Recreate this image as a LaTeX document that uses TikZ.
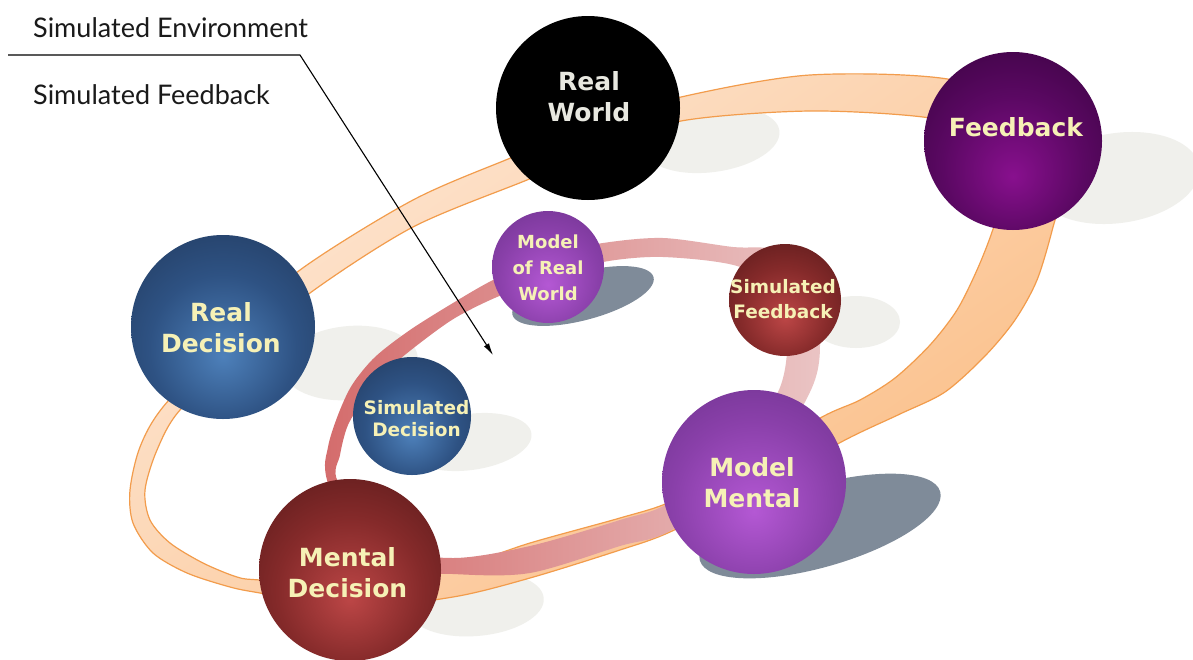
\documentclass[tikz,border=0pt]{standalone}
\usepackage{fontspec}
\newfontfamily\ballfont{DejaVu Sans}
\newfontfamily\capfont{Lato}
\usetikzlibrary{arrows.meta}
\definecolor{bIn}{HTML}{4D80BA}
\definecolor{bMid}{HTML}{2E5283}
\definecolor{bOut}{HTML}{1A2B47}
\definecolor{rIn}{HTML}{BC4646}
\definecolor{rMid}{HTML}{852A2A}
\definecolor{rOut}{HTML}{3C1010}
\definecolor{pIn}{HTML}{B458D4}
\definecolor{pMid}{HTML}{8A40AA}
\definecolor{pOut}{HTML}{5C2A7C}
\definecolor{fIn}{HTML}{88108E}
\definecolor{fMid}{HTML}{5A0862}
\definecolor{fOut}{HTML}{26002C}
\definecolor{lblyellow}{HTML}{F6F1B6}
\definecolor{lblwhite}{HTML}{E8E8E0}
\definecolor{shLight}{HTML}{F0F0EC}
\definecolor{shDark}{HTML}{7F8B99}
\definecolor{orTop}{HTML}{FDE7D5}
\definecolor{orBot}{HTML}{FBBE86}
\definecolor{orEdge}{HTML}{F29C4C}
\definecolor{pkL}{HTML}{D46C6C}
\definecolor{pkM}{HTML}{E3ABAB}
\definecolor{pkR}{HTML}{EAC4C4}
\definecolor{capcol}{HTML}{1A1A1A}
\pgfdeclareradialshading{ballblue}{\pgfpoint{0bp}{-8bp}}{color(0bp)=(bIn); color(20bp)=(bMid); color(50bp)=(bOut); color(70bp)=(bOut)}
\pgfdeclareradialshading{ballred}{\pgfpoint{0bp}{-8bp}}{color(0bp)=(rIn); color(20bp)=(rMid); color(50bp)=(rOut); color(70bp)=(rOut)}
\pgfdeclareradialshading{ballpurple}{\pgfpoint{0bp}{-8bp}}{color(0bp)=(pIn); color(22bp)=(pMid); color(50bp)=(pOut); color(70bp)=(pOut)}
\pgfdeclareradialshading{ballfeed}{\pgfpoint{0bp}{-10bp}}{color(0bp)=(fIn); color(20bp)=(fMid); color(50bp)=(fOut); color(70bp)=(fOut)}
\tikzset{
  ball/.style={circle, inner sep=0pt, minimum size=#1},
  biglbl/.style={font=\ballfont\bfseries\fontsize{25}{31}\selectfont, text=lblyellow, align=center, inner sep=0pt},
  smalllbl/.style={font=\ballfont\bfseries\fontsize{18.5}{#1}\selectfont, text=lblyellow, align=center, inner sep=0pt},
  caption/.style={font=\capfont\fontsize{27}{32}\selectfont, text=capcol, inner sep=0pt, anchor=base west},
  lightshadow/.style={fill=shLight},
  darkshadow/.style={fill=shDark},
}
\begin{document}
\begin{tikzpicture}[x=1pt,y=-1pt]
\useasboundingbox (0,0) rectangle (1193,659);
\fill[white] (0,0) rectangle (1193,659);
% shadows
\fill[lightshadow, rotate around={8:(712,140)}] (712,140) ellipse [x radius=68, y radius=32];
\fill[lightshadow, rotate around={8:(1118,178)}] (1118,178) ellipse [x radius=82, y radius=45];
\fill[lightshadow, rotate around={5:(350,363)}] (350,363) ellipse [x radius=68, y radius=37];
\fill[lightshadow] (856,322) ellipse [x radius=44, y radius=26];
\fill[lightshadow, rotate around={8:(470,442)}] (470,442) ellipse [x radius=62, y radius=28];
\fill[lightshadow, rotate around={5:(476,604)}] (476,604) ellipse [x radius=68, y radius=32];
\fill[darkshadow, rotate around={15:(583,296)}] (583,296) ellipse [x radius=73, y radius=24];
\fill[darkshadow, rotate around={16:(820,526)}] (820,526) ellipse [x radius=125, y radius=41];
% outer orange ring
\def\orOuter{(300,270) (413,200) (513,157) (600,122) (681,97) (810,75) (953,80) (1030,120) (1062,182) (1053,227) (1037,280) (1015,320) (985,356) (945,392) (900,414) (845,440) (760,487) (670,532) (620,550) (530,578) (453,597) (350,608) (260,593) (230,587) (187,573) (153,553) (133,523) (130,490) (140,447) (163,407) (230,335)}
\def\orInner{(310,293) (413,227) (527,180) (600,150) (681,121) (810,111) (930,118) (978,138) (1003,192) (992,232) (977,270) (957,310) (930,345) (895,378) (860,400) (822,417) (740,465) (670,502) (620,518) (530,543) (453,568) (350,585) (260,580) (237,577) (203,563) (170,543) (150,520) (145,490) (157,450) (180,410) (245,350)}
\shade[even odd rule, top color=orTop, bottom color=orBot, shading angle=35]
  plot[smooth cycle] coordinates {\orOuter} plot[smooth cycle] coordinates {\orInner};
\draw[orEdge, line width=1.2pt]
  plot[smooth cycle] coordinates {\orOuter} plot[smooth cycle] coordinates {\orInner};
% inner pink ring
\shade[even odd rule, left color=pkL, middle color=pkM, right color=pkR]
  plot[smooth cycle] coordinates {(327,480) (360,565) (453,574) (530,573) (620,546) (670,531) (760,470) (810,392) (820,345) (810,280) (775,250) (733,247) (663,238) (603,243) (548,255) (493,280) (453,303) (410,330) (375,357) (352,385) (338,415) (328,447)}
  plot[smooth cycle] coordinates {(338,482) (385,545) (453,558) (530,546) (620,520) (670,502) (740,440) (778,392) (787,345) (775,300) (740,267) (663,257) (603,262) (550,278) (497,297) (455,318) (420,343) (390,368) (365,398) (348,425) (340,455)};
% spheres
\node[ball=184, fill=black] (rw) at (588,108) {};
\node[ball=178, shade, shading=ballfeed] (fb) at (1013,141) {};
\node[ball=184, shade, shading=ballblue] (rd) at (223,327) {};
\node[ball=112, shade, shading=ballpurple] (mrw) at (548,267) {};
\node[ball=112, shade, shading=ballred] (sf) at (785,300) {};
\node[ball=118, shade, shading=ballblue] (sd) at (412,416) {};
\node[ball=182, shade, shading=ballred] (md) at (350,570) {};
\node[ball=184, shade, shading=ballpurple] (mm) at (754,482) {};
% labels
\node[biglbl, text=lblwhite] (rwt) at (589,97) {Real\\World};
\node[biglbl] (fbt) at (1016,127.5) {Feedback};
\node[biglbl] (rdt) at (221,328) {Real\\Decision};
\node[biglbl] (mmt) at (752,483) {Model\\Mental};
\node[biglbl] (mdt) at (347.5,573) {Mental\\Decision};
\node[smalllbl=26, font=\ballfont\bfseries\fontsize{18}{26}\selectfont] (mrwt) at (548,268) {Model\\of Real\\World};
\node[smalllbl=25] (sft) at (783,299.5) {Simulated\\Feedback};
\node[smalllbl=22] (sdt) at (416.5,419) {Simulated\\Decision};
% captions and pointer
\node[caption] (cenv) at (33,37) {Simulated Environment};
\node[caption] (cfb) at (33,104) {Simulated Feedback};
\coordinate (ls) at (8,55);
\coordinate (lk) at (300,55);
\coordinate (lt) at (493,355);
\draw[line width=1.1pt, -{Latex[length=12pt, width=6pt]}] (ls) -- (lk) -- (lt);
\end{tikzpicture}
\end{document}
